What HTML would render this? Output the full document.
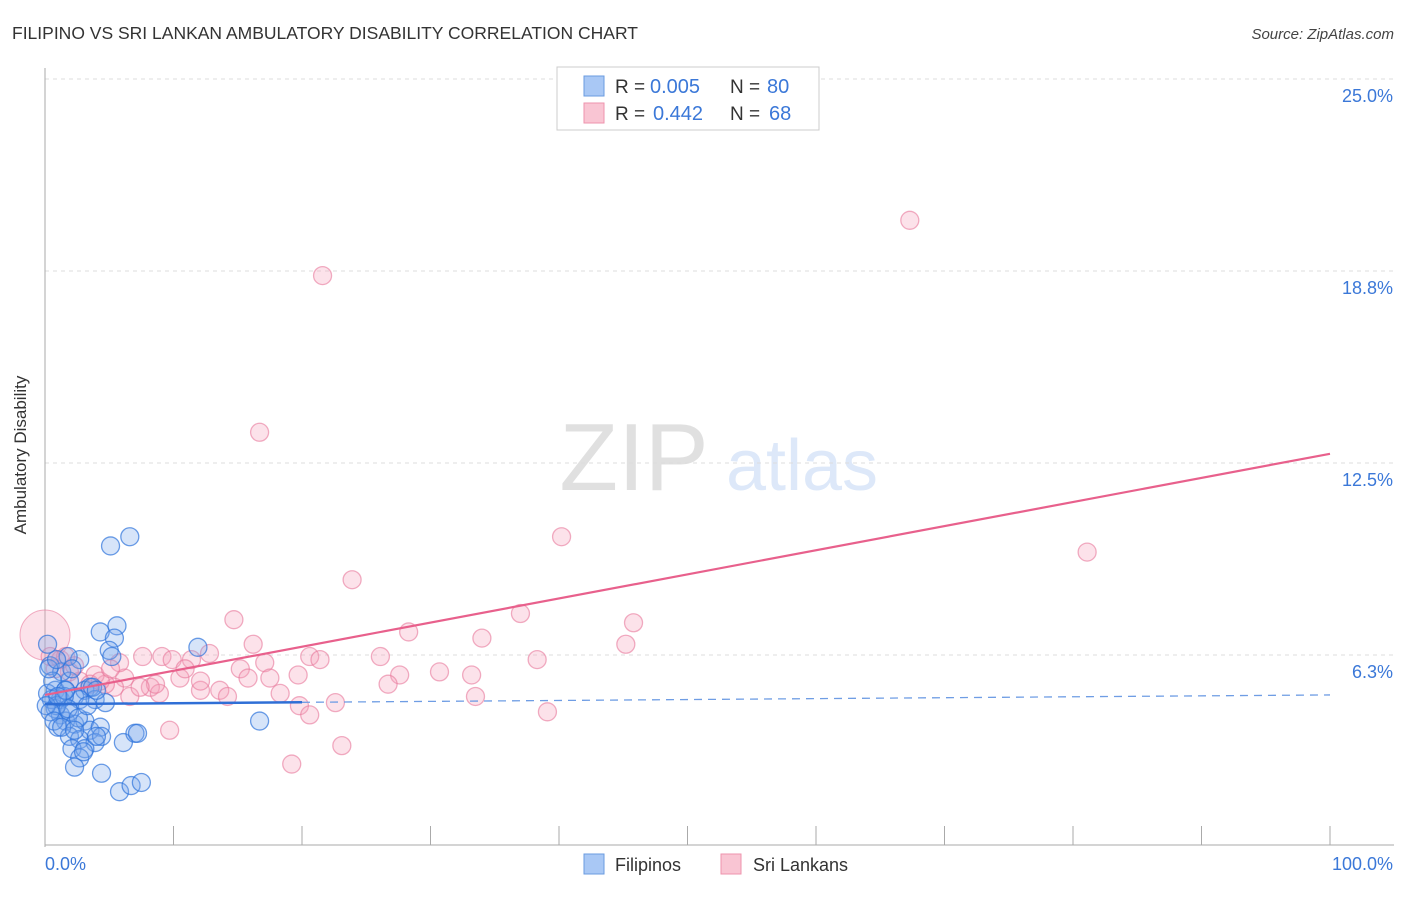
<!DOCTYPE html>
<html><head><meta charset="utf-8"><style>
body{margin:0;background:#fff;font-family:"Liberation Sans",sans-serif}
svg text{font-family:"Liberation Sans",sans-serif}
</style></head><body>
<svg id="c" width="1406" height="892">
<text x="12" y="39" font-size="17.5" fill="#333">FILIPINO VS SRI LANKAN AMBULATORY DISABILITY CORRELATION CHART</text>
<text x="1394" y="39" font-size="15" fill="#444" font-style="italic" text-anchor="end">Source: ZipAtlas.com</text>
<g opacity="0.25">
<text x="634" y="490" font-size="96" font-family="Liberation Serif,serif" fill="#888" text-anchor="middle">ZIP</text>
<text x="802" y="490" font-size="72" fill="#7aa6e8" text-anchor="middle">atlas</text>
</g>
<g id="grid"></g><g id="axes"></g><g id="pts"></g><g id="trend"></g>
<text x="26" y="455" font-size="17" fill="#333" text-anchor="middle" transform="rotate(-90 26 455)">Ambulatory Disability</text>
<g>
<rect x="557" y="67" width="262" height="63" fill="#fff" stroke="#ccc"/>
<rect x="584" y="76" width="20" height="20" fill="#a9c8f5" stroke="#6a9be0"/>
<rect x="584" y="103" width="20" height="20" fill="#f9c5d3" stroke="#ee93ad"/>
<text x="615" y="93" font-size="19" fill="#333">R =</text>
<text x="650" y="93" font-size="20" fill="#3b78d8">0.005</text>
<text x="730" y="93" font-size="19" fill="#333">N =</text>
<text x="767" y="93" font-size="20" fill="#3b78d8">80</text>
<text x="615" y="120" font-size="19" fill="#333">R =</text>
<text x="653" y="120" font-size="20" fill="#3b78d8">0.442</text>
<text x="730" y="120" font-size="19" fill="#333">N =</text>
<text x="769" y="120" font-size="20" fill="#3b78d8">68</text>
</g>
<g>
<rect x="584" y="854" width="20" height="20" fill="#a9c8f5" stroke="#6a9be0"/>
<text x="615" y="871" font-size="18" fill="#333">Filipinos</text>
<rect x="721" y="854" width="20" height="20" fill="#f9c5d3" stroke="#ee93ad"/>
<text x="753" y="871" font-size="18" fill="#333">Sri Lankans</text>
</g>
</svg>
<script>
const yTicks=[6.25,12.5,18.75,25];
const yTickLabels=["6.3%","12.5%","18.8%","25.0%"];
const xTickCount=10;
const blueX=[5.1,6.6,4.3,5.6,5.4,11.9,5.0,5.2,2.7,1.8,0.2,0.4,0.8,1.2,1.6,1.9,2.3,3.1,3.5,3.9,4.7,2.7,0.8,1.2,1.6,1.9,2.3,3.1,3.5,4.3,1.0,1.9,2.7,3.9,4.4,2.1,3.1,2.7,3.0,2.3,4.4,6.1,7.0,7.2,16.7,5.8,6.7,7.5,0.5,0.2,1.3,2.1,3.7,0.9,1.5,0.1,0.4,0.6,1.8,2.6,3.3,4.0,1.6,1.0,0.7,1.3,2.3,4.0,0.3,0.9];
const blueY=[9.8,10.1,7.0,7.2,6.8,6.5,6.4,6.2,6.1,6.2,6.6,5.9,5.1,4.8,5.1,5.4,4.9,5.1,5.2,4.8,4.7,4.8,4.5,4.3,4.1,4.4,4.0,4.1,3.8,3.9,3.9,3.6,3.5,3.4,3.6,3.2,3.2,2.9,3.1,2.6,2.4,3.4,3.7,3.7,4.1,1.8,2.0,2.1,4.8,5.0,5.7,5.8,5.2,4.6,4.9,4.6,4.4,5.4,4.5,4.2,4.6,5.1,5.1,4.9,4.1,3.9,3.8,3.6,5.8,6.1];
const pinkX=[21.6,67.3,16.7,40.2,23.9,81.1,37.0,45.8,14.7,28.3,34.0,45.2,16.2,38.3,26.1,20.6,21.4,12.8,9.1,7.6,9.9,11.4,17.1,15.2,30.7,33.2,19.7,27.6,10.5,6.2,5.4,4.7,3.9,8.2,12.1,13.6,15.8,17.5,26.7,18.3,6.6,8.9,14.2,33.5,19.8,22.6,20.6,39.1,9.7,23.1,19.2,1.2,1.9,2.7,3.5,0.8,1.6,4.3,5.8,10.9,8.6,5.1,0.4,2.3,7.4,12.1];
const pinkY=[18.6,20.4,13.5,10.1,8.7,9.6,7.6,7.3,7.4,7.0,6.8,6.6,6.6,6.1,6.2,6.2,6.1,6.3,6.2,6.2,6.1,6.1,6.0,5.8,5.7,5.6,5.6,5.6,5.5,5.5,5.2,5.3,5.6,5.2,5.1,5.1,5.5,5.5,5.3,5.0,4.9,5.0,4.9,4.9,4.6,4.7,4.3,4.4,3.8,3.3,2.7,6.1,5.7,5.4,5.3,5.8,6.2,5.4,6.0,5.8,5.3,5.8,6.2,5.9,5.2,5.4];
const bigPink=[0,6.9];
const blueTrend=[4.65,4.95];
const pinkTrend=[4.95,12.8];
const X0=45,X1=1330,Y0=847,PXY=30.72;
const sx=v=>X0+(X1-X0)*v/100, sy=v=>Y0-v*PXY;
const NS="http://www.w3.org/2000/svg";
function mk(t,a,p){const e=document.createElementNS(NS,t);for(const k in a)e.setAttribute(k,a[k]);p.appendChild(e);return e;}
const G=document.getElementById('grid'),A=document.getElementById('axes'),P=document.getElementById('pts'),T=document.getElementById('trend');
yTicks.forEach((v,i)=>{
 const l=mk('line',{x1:X0,x2:1394,y1:sy(v),y2:sy(v),stroke:'#ddd','stroke-dasharray':'4,4'},G);
 
 
 const t=mk('text',{x:1393,y:sy(v)+23,'font-size':18,fill:'#3b78d8','text-anchor':'end'},A);
 t.textContent=yTickLabels[i];
 
 
});
const ya=mk('line',{x1:X0,x2:X0,y1:68,y2:847,stroke:'#aaa'},A);


const xa=mk('line',{x1:X0,x2:1394,y1:845,y2:845,stroke:'#aaa'},A);


for(let i=0;i<=xTickCount;i++){const tk=mk('line',{x1:sx(i*10),x2:sx(i*10),y1:826,y2:845,stroke:'#aaa'},A);
 
 }
const xl0=mk('text',{x:45,y:870,'font-size':18,fill:'#3b78d8'},A);xl0.textContent='0.0%';


const xl1=mk('text',{x:1393,y:870,'font-size':18,fill:'#3b78d8','text-anchor':'end'},A);xl1.textContent='100.0%';


const bp=mk('circle',{cx:sx(bigPink[0]),cy:sy(bigPink[1]),r:25,fill:'rgba(245,160,185,0.3)',stroke:'rgba(232,120,155,0.6)'},P);


pinkX.forEach((x,i)=>{const c=mk('circle',{cx:sx(x),cy:sy(pinkY[i]),r:9,fill:'rgba(245,160,185,0.3)',stroke:'rgba(232,120,155,0.6)','stroke-width':1.3},P);
 
 });
blueX.forEach((x,i)=>{const c=mk('circle',{cx:sx(x),cy:sy(blueY[i]),r:9,fill:'rgba(120,165,235,0.3)',stroke:'rgba(45,115,220,0.7)','stroke-width':1.3},P);
 
 });
const bt=(x)=>blueTrend[0]+(blueTrend[1]-blueTrend[0])*x/100;
const b1=mk('line',{x1:sx(0),y1:sy(bt(0)),x2:sx(20),y2:sy(bt(20)),stroke:'#2f6fd6','stroke-width':2.5},T);


const b2=mk('line',{x1:sx(20),y1:sy(bt(20)),x2:sx(100),y2:sy(bt(100)),stroke:'#6f9de4','stroke-width':1.3,'stroke-dasharray':'8,6'},T);


const pl=mk('line',{x1:sx(0),y1:sy(pinkTrend[0]),x2:sx(100),y2:sy(pinkTrend[1]),stroke:'#e8608c','stroke-width':2.2},T);


</script>
</body></html>
